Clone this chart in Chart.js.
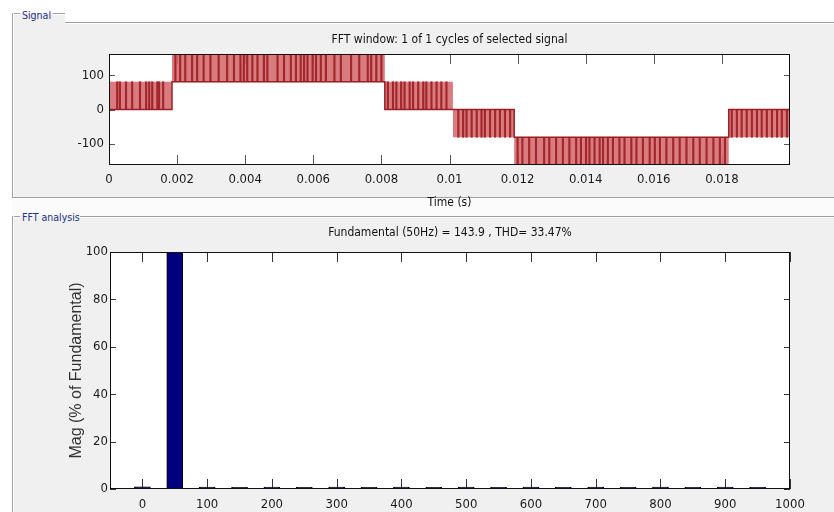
<!DOCTYPE html>
<html><head><meta charset="utf-8">
<script src="https://cdn.jsdelivr.net/npm/chart.js@4.4.1/dist/chart.umd.min.js"></script>
<style>
html,body{margin:0;padding:0;}
body{width:834px;height:512px;overflow:hidden;position:relative;background:#fff;font-family:'DejaVu Sans Condensed','Liberation Sans Narrow',sans-serif;}
.abs{position:absolute}
.gray{position:absolute;background:#f0f0f0}
.hl{position:absolute;height:1px;background:#a0a0a0;box-shadow:0 1px 0 #fff}
.vl{position:absolute;width:1px;background:#a0a0a0;box-shadow:1px 0 0 #fff}
.grp{position:absolute;font-size:10.5px;color:#26308a;line-height:12px;white-space:nowrap}
canvas{position:absolute;left:0}
</style></head><body>
<div class="gray" style="left:12px;top:22px;width:822px;height:175px"></div>
<div class="gray" style="left:12px;top:13px;width:53px;height:9px"></div>
<div class="gray" style="left:12px;top:216px;width:822px;height:296px"></div>
<div class="abs" style="left:12px;top:198px;width:822px;height:18px;background:#fbfbfb"></div>
<div class="hl" style="left:12px;top:13px;width:8px"></div>
<div class="hl" style="left:53px;top:13px;width:12px"></div>
<div class="hl" style="left:65px;top:22px;width:769px"></div>
<div class="vl" style="left:12px;top:13px;height:184px"></div>
<div class="hl" style="left:12px;top:197px;width:822px"></div>
<div class="hl" style="left:12px;top:216px;width:8px"></div>
<div class="hl" style="left:80px;top:216px;width:754px"></div>
<div class="vl" style="left:12px;top:216px;height:296px"></div>
<span class="grp" style="left:22px;top:9px">Signal</span>
<span class="grp" style="left:22px;top:211px">FFT analysis</span>
<canvas id="sig" width="834" height="212" style="top:0"></canvas>
<canvas id="fft" width="834" height="300" style="top:212px"></canvas>
<script>
// ---------- data: signal panel ----------
const sigTitle = 'FFT window: 1 of 1 cycles of selected signal';
const sigXTitle = 'Time (s)';
const sigXTicks = [0, 0.002, 0.004, 0.006, 0.008, 0.01, 0.012, 0.014, 0.016, 0.018];
const sigXTickLabels = ['0', '0.002', '0.004', '0.006', '0.008', '0.01', '0.012', '0.014', '0.016', '0.018'];
const sigYTicks = [-100, 0, 100];
const sigYTickLabels = ['-100', '0', '100'];
// step segments of the multilevel PWM signal
const segStart = [0, 0.00185, 0.0081, 0.0101, 0.0119, 0.0182];
const segEnd   = [0.00185, 0.0081, 0.0101, 0.0119, 0.0182, 0.02];
const segLow   = [0, 81.5, 0, -81.5, -163, -81.5];
const segHigh  = [81.5, 163, 81.5, 0, -81.5, 0];
const segRest  = [0, 81.5, 0, 0, -81.5, 0];
// switching instants (s), per segment
const pulses1 = [0.00024, 0.00032, 0.0005, 0.00068, 0.00091, 0.00109, 0.00118, 0.00127, 0.00142, 0.00147, 0.00159];
const pulses2 = [0.00195, 0.00209, 0.00224, 0.00244, 0.00259, 0.00278, 0.00298, 0.00322, 0.00347, 0.00367, 0.00386, 0.00396, 0.00406, 0.00421, 0.00436, 0.00455, 0.00465, 0.00495, 0.00514, 0.00534, 0.00549, 0.00563, 0.00573, 0.00583, 0.00598, 0.00608, 0.00622, 0.00637, 0.00662, 0.00681, 0.00711, 0.00735, 0.0076, 0.0077, 0.00785, 0.008];
const pulses3 = [0.00819, 0.00834, 0.00844, 0.00858, 0.00868, 0.00883, 0.00893, 0.00908, 0.00923, 0.00932, 0.00947, 0.00962, 0.00976, 0.00991];
const pulses4 = [0.01026, 0.0104, 0.0105, 0.01065, 0.0108, 0.01094, 0.01104, 0.01119, 0.01134, 0.01148, 0.01163, 0.01178];
const pulses5 = [0.012, 0.01214, 0.01234, 0.01254, 0.01278, 0.01293, 0.01313, 0.01333, 0.01352, 0.01372, 0.01386, 0.01401, 0.01411, 0.01426, 0.01441, 0.01451, 0.01465, 0.0148, 0.01499, 0.01514, 0.01534, 0.01549, 0.01568, 0.01588, 0.01603, 0.01618, 0.01637, 0.01657, 0.01676, 0.01696, 0.01716, 0.01735, 0.01755, 0.01775, 0.01794, 0.01809];
const pulses6 = [0.01829, 0.01844, 0.01858, 0.01873, 0.01888, 0.01903, 0.01917, 0.01932, 0.01947, 0.01962, 0.01976, 0.01991];

// ---------- data: FFT panel ----------
const fftTitle = 'Fundamental (50Hz) = 143.9 , THD= 33.47%';
const fftYTitle = 'Mag (% of Fundamental)';
const harmFreq = [0, 50, 100, 150, 200, 250, 300, 350, 400, 450, 500, 550, 600, 650, 700, 750, 800, 850, 900, 950];
const harmMag  = [0.9, 100, 0.8, 0.7, 0.8, 0.7, 0.8, 0.7, 0.8, 0.7, 0.8, 0.7, 0.8, 0.7, 0.8, 0.7, 0.8, 0.7, 0.8, 0.7];
const fftXTicks = [0, 100, 200, 300, 400, 500, 600, 700, 800, 900, 1000];
const fftXTickLabels = ['0', '100', '200', '300', '400', '500', '600', '700', '800', '900', '1000'];
const fftYTicks = [0, 20, 40, 60, 80, 100];
const fftYTickLabels = ['0', '20', '40', '60', '80', '100'];

// ---------- styling / helpers ----------
const NARROW = "'DejaVu Sans Condensed','Liberation Sans Narrow',sans-serif";
Chart.defaults.font.family = NARROW;
Chart.defaults.color = '#1a1a1a';

const frameTicks = {
  id: 'frameTicks',
  beforeDraw(chart) {
    const {ctx, chartArea: a} = chart;
    ctx.save(); ctx.fillStyle = '#fff'; ctx.fillRect(a.left, a.top, a.width, a.height); ctx.restore();
  },
  beforeDatasetsDraw(chart, args, o) {
    const {ctx, chartArea: a, scales: {x, y}} = chart;
    ctx.save(); ctx.lineWidth = 1; ctx.strokeStyle = o.tickColor; ctx.beginPath();
    x.ticks.forEach(t => {
      const p = Math.round(x.getPixelForValue(t.value)) + 0.5;
      ctx.moveTo(p, a.bottom); ctx.lineTo(p, a.bottom - o.xLen);
      ctx.moveTo(p, a.top); ctx.lineTo(p, a.top + o.xLen);
    });
    y.ticks.forEach(t => {
      const p = Math.round(y.getPixelForValue(t.value)) + 0.5;
      ctx.moveTo(a.left, p); ctx.lineTo(a.left + o.yLen, p);
      ctx.moveTo(a.right, p); ctx.lineTo(a.right - o.yLen, p);
    });
    ctx.stroke(); ctx.restore();
  },
  afterDatasetsDraw(chart, args, o) {
    const {ctx, chartArea: a} = chart;
    ctx.save(); ctx.lineWidth = 1; ctx.strokeStyle = o.boxColor;
    ctx.strokeRect(Math.round(a.left) + 0.5, Math.round(a.top) + 0.5, Math.round(a.width) - 1, Math.round(a.height) - 1);
    ctx.restore();
  }
};

function fixTicks(vals) { return function (axis) { axis.ticks = vals.map(v => ({value: v})); }; }

// ---------- signal chart ----------
const upperEnv = [], lowerEnv = [], restLine = [], pulseBars = [];
const pulseSets = [pulses1, pulses2, pulses3, pulses4, pulses5, pulses6];
segStart.forEach((s, i) => {
  upperEnv.push({x: s, y: segHigh[i]}, {x: segEnd[i], y: segHigh[i]});
  lowerEnv.push({x: s, y: segLow[i]}, {x: segEnd[i], y: segLow[i]});
  restLine.push({x: s, y: segRest[i]}, {x: segEnd[i], y: segRest[i]});
  pulseSets[i].forEach(t => pulseBars.push({x: t, y: [segLow[i], segHigh[i]]}));
});

new Chart(document.getElementById('sig'), {
  type: 'line',
  data: {
    datasets: [
      {type: 'line', data: upperEnv, borderWidth: 0, pointRadius: 0, fill: '+1', backgroundColor: 'rgba(212,106,110,0.88)', order: 5},
      {type: 'line', data: lowerEnv, borderWidth: 0, pointRadius: 0, fill: false, order: 6},
      {type: 'bar', data: pulseBars, backgroundColor: '#a3262b', barThickness: 1.5, order: 3},
      {type: 'line', data: restLine, borderColor: '#9a1f24', borderWidth: 1.5, pointRadius: 0, fill: false, order: 1}
    ]
  },
  options: {
    responsive: false, animation: false, events: [],
    layout: {padding: {left: 0, right: 44, top: 0, bottom: 0}},
    plugins: {
      legend: {display: false}, tooltip: {enabled: false},
      title: {display: true, fullSize: false, text: sigTitle, color: '#111', font: {size: 12, weight: 'normal', family: NARROW}, padding: {top: 32.8, bottom: 6.8}},
      frameTicks: {tickColor: '#555', boxColor: '#111', xLen: 10, yLen: 6}
    },
    scales: {
      x: {
        type: 'linear', min: 0, max: 0.02, offset: false,
        afterBuildTicks: fixTicks(sigXTicks),
        afterFit(s) { s.height = 47; },
        grid: {display: false, drawTicks: false}, border: {display: false},
        ticks: {autoSkip: false, maxRotation: 0, padding: 6.5, font: {size: 13}, color: '#1a1a1a',
          callback: (v, i) => sigXTickLabels[i]},
        title: {display: true, text: sigXTitle, color: '#111', font: {size: 12}, padding: {top: 0, bottom: 1.8}}
      },
      y: {
        type: 'linear', min: -163, max: 163,
        afterBuildTicks: fixTicks(sigYTicks),
        afterFit(s) { s.width = 109; },
        grid: {display: false, drawTicks: false}, border: {display: false},
        ticks: {padding: 5, font: {size: 13}, color: '#1a1a1a', callback: (v, i) => sigYTickLabels[i]}
      }
    }
  },
  plugins: [frameTicks]
});

// ---------- FFT chart ----------
new Chart(document.getElementById('fft'), {
  type: 'bar',
  data: {
    datasets: [{
      data: harmFreq.map((f, i) => ({x: f, y: harmMag[i]})),
      backgroundColor: '#00007f', borderColor: '#000', borderWidth: 1, borderSkipped: false,
      barThickness: 16
    }]
  },
  options: {
    responsive: false, animation: false, events: [],
    layout: {padding: {left: 0, right: 44, top: 0, bottom: 0}},
    plugins: {
      legend: {display: false}, tooltip: {enabled: false},
      title: {display: true, fullSize: false, text: fftTitle, color: '#111', font: {size: 12, weight: 'normal', family: NARROW}, padding: {top: 13.8, bottom: 11.8}},
      frameTicks: {tickColor: '#333', boxColor: '#111', xLen: 10, yLen: 6}
    },
    scales: {
      x: {
        type: 'linear', min: -50, max: 1000, offset: false,
        afterBuildTicks: fixTicks(fftXTicks),
        afterFit(s) { s.height = 23; },
        grid: {display: false, drawTicks: false}, border: {display: false},
        ticks: {autoSkip: false, maxRotation: 0, padding: 8, font: {size: 13}, color: '#1a1a1a',
          callback: (v, i) => fftXTickLabels[i]}
      },
      y: {
        type: 'linear', min: 0, max: 100,
        afterBuildTicks: fixTicks(fftYTicks),
        afterFit(s) { s.width = 110; },
        grid: {display: false, drawTicks: false}, border: {display: false},
        ticks: {padding: 2, font: {size: 13}, color: '#1a1a1a', callback: (v, i) => fftYTickLabels[i]},
        title: {display: true, text: fftYTitle, color: '#333', font: {size: 16, family: "'Liberation Sans',Arial,sans-serif"}, padding: {top: 67.4, bottom: 0}}
      }
    }
  },
  plugins: [frameTicks]
});
</script>
</body></html>
